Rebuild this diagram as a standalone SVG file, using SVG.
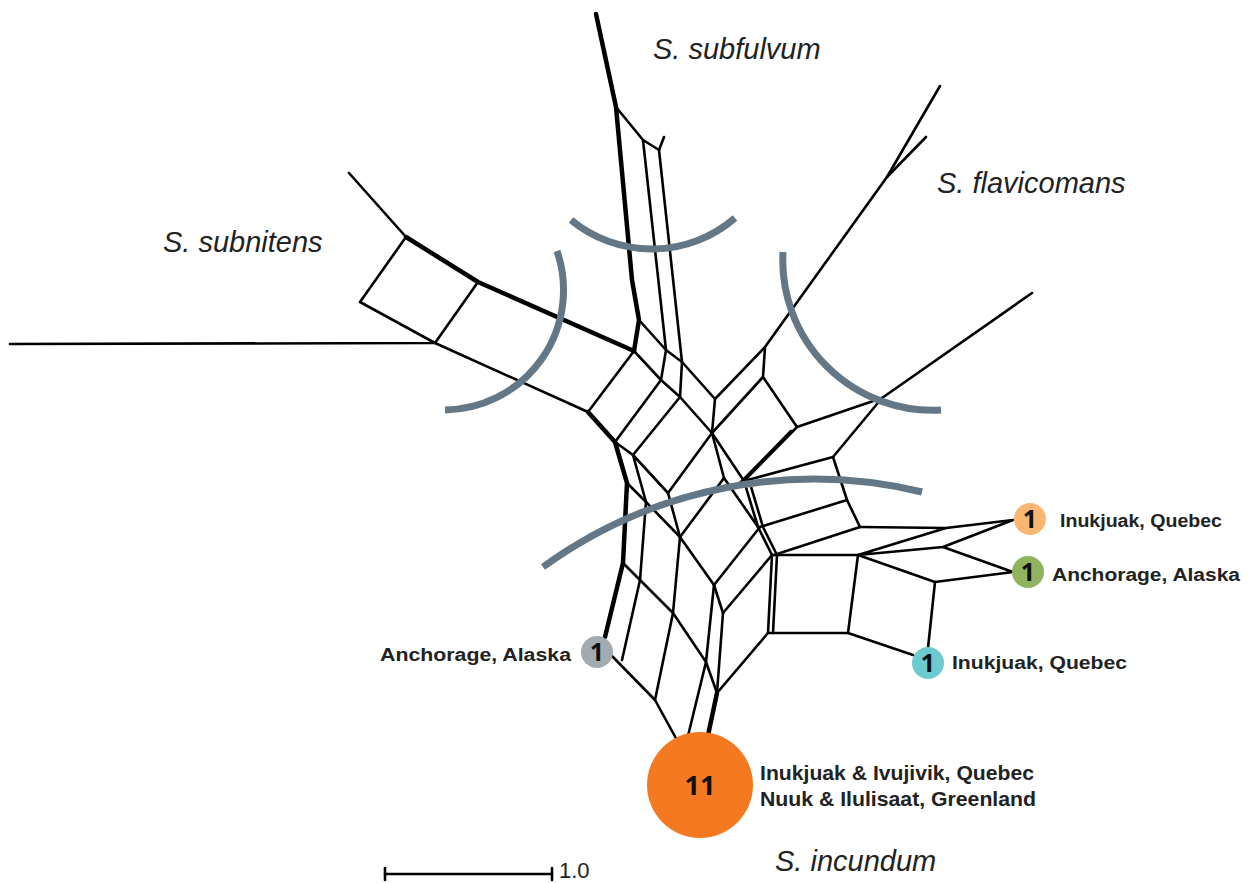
<svg xmlns="http://www.w3.org/2000/svg" width="1253" height="883" viewBox="0 0 1253 883">
<style>
.t{fill:none;stroke:#000;stroke-width:2.6;stroke-linejoin:round;stroke-linecap:round}
.k{fill:none;stroke:#000;stroke-width:4.5;stroke-linejoin:round;stroke-linecap:round}
.arc{fill:none;stroke:#637786;stroke-width:7}
.sp{font-family:"Liberation Sans",Arial,sans-serif;font-style:italic;font-size:29px;fill:#222}
.lb{font-family:"Liberation Sans",Arial,sans-serif;font-weight:bold;font-size:18px;fill:#222}
.lb2{font-family:"Liberation Sans",Arial,sans-serif;font-weight:bold;font-size:20px;fill:#222}
.n{font-family:"Open Sans","Liberation Sans",sans-serif;font-weight:bold;font-size:25px;fill:#111;text-anchor:middle}
</style>
<rect width="1253" height="883" fill="#fff"/>
<g id="connectors">
<polyline class="k" points="596,14 616,107 632,280 639,320 634,351"/>
<polyline class="k" points="406,237 478,282 634,351"/>
<polyline class="k" points="588,412 615,442 627,483 623,563 605,637"/>
<polyline class="k" points="717,693 707,740"/>
<polyline class="t" points="349,173 406,237 360,302 435,343 588,412 634,351"/>
<polyline class="t" points="10,344 435,343 478,282"/>
<polyline class="t" points="616,107 643,140 659,150 664,137"/>
<polyline class="t" points="643,140 666,350 661,380"/>
<polyline class="t" points="659,150 682,362 680,397"/>
<polyline class="t" points="639,320 666,350 682,362 715,399 712,433"/>
<polyline class="t" points="634,351 661,380 680,397 712,433"/>
<polyline class="t" points="661,380 615,442"/>
<polyline class="t" points="680,397 633,455"/>
<polyline class="t" points="712,433 668,493"/>
<polyline class="t" points="615,442 633,455 668,493"/>
<polyline class="t" points="627,483 646,502 680,537"/>
<polyline class="t" points="633,455 646,502"/>
<polyline class="t" points="668,493 680,537 714,585 723,613"/>
<polyline class="t" points="712,433 724,478 758,527"/>
<polyline class="t" points="724,478 680,537"/>
<polyline class="t" points="712,433 744,481"/>
<polyline class="t" points="715,399 765,347 813,280 887,177 940,86"/>
<polyline class="t" points="887,177 926,137"/>
<polyline class="t" points="712,433 763,377 765,347"/>
<polyline class="t" points="763,377 797,427 882,398 1032,293"/>
<polyline class="t" points="882,398 833,457 744,481"/>
<polyline class="t" points="797,427 744,481"/>
<polyline class="t" points="791,431 739,484"/>
<polyline class="t" points="744,481 758,527 772,555"/>
<polyline class="t" points="749,480 763,527 777,555"/>
<polyline class="t" points="833,457 847,500 860,527"/>
<polyline class="t" points="847,500 760,527"/>
<polyline class="t" points="860,527 774,555"/>
<polyline class="t" points="714,585 760,527"/>
<polyline class="t" points="772,555 858,555 848,633 768,633 772,555"/>
<polyline class="t" points="777,555 773,633"/>
<polyline class="t" points="860,527 946,528 1013,520 943,547 858,555 946,528"/>
<polyline class="t" points="943,547 1013,572 935,582 858,555"/>
<polyline class="t" points="935,582 928,648"/>
<polyline class="t" points="848,633 913,655"/>
<polyline class="t" points="646,502 640,580 622,660"/>
<polyline class="t" points="623,563 640,580 673,613 706,662 717,693"/>
<polyline class="t" points="680,537 673,613 655,700"/>
<polyline class="t" points="612,656 655,700 678,742"/>
<polyline class="t" points="714,585 706,662 687,740"/>
<polyline class="t" points="723,613 717,693"/>
<polyline class="t" points="723,613 772,555"/>
<polyline class="t" points="717,693 768,633"/>
</g>
<g id="arcs">
<path class="arc" d="M557,251 A120,120 0 0 1 445,410"/>
<path class="arc" d="M571,220 A127,127 0 0 0 735,218"/>
<path class="arc" d="M783,252 A150,150 0 0 0 941,410"/>
<path class="arc" d="M543,567 A462,462 0 0 1 922,492"/>
</g>
<g id="node-gray"><circle cx="597" cy="652" r="16" fill="#a3aab0"/><text class="n" x="597" y="661">1</text><text class="lb" x="571" y="661" text-anchor="end" textLength="191" lengthAdjust="spacingAndGlyphs">Anchorage, Alaska</text></g>
<g id="node-lightorange"><circle cx="1030" cy="519" r="16" fill="#f9b673"/><text class="n" x="1030" y="528">1</text><text class="lb" x="1060" y="527" textLength="162" lengthAdjust="spacingAndGlyphs">Inukjuak, Quebec</text></g>
<g id="node-green"><circle cx="1028" cy="572" r="16" fill="#8fb35f"/><text class="n" x="1028" y="581">1</text><text class="lb" x="1052" y="581" textLength="188" lengthAdjust="spacingAndGlyphs">Anchorage, Alaska</text></g>
<g id="node-cyan"><circle cx="928" cy="663" r="16" fill="#6ccbd0"/><text class="n" x="928" y="672">1</text><text class="lb" x="952" y="669" textLength="175" lengthAdjust="spacingAndGlyphs">Inukjuak, Quebec</text></g>
<g id="node-orange"><circle cx="700" cy="785" r="53" fill="#f47920"/><text class="n" x="700" y="795" style="font-size:27px">11</text><text class="lb2" x="760" y="780" textLength="274" lengthAdjust="spacingAndGlyphs">Inukjuak &amp; Ivujivik, Quebec</text><text class="lb2" x="760" y="806" textLength="276" lengthAdjust="spacingAndGlyphs">Nuuk &amp; Ilulisaat, Greenland</text></g>
<g id="labels">
<text class="sp" x="653" y="59">S. subfulvum</text>
<text class="sp" x="937" y="193">S. flavicomans</text>
<text class="sp" x="163" y="252">S. subnitens</text>
<text class="sp" x="775" y="871">S. incundum</text>
</g>
<g id="scale">
<polyline class="t" points="385,874 552,874"/>
<polyline class="t" points="385,868 385,880"/>
<polyline class="t" points="552,868 552,880"/>
<text x="559" y="878" style="font-family:'Liberation Sans',Arial,sans-serif;font-size:22px;fill:#222">1.0</text>
</g>
</svg>
